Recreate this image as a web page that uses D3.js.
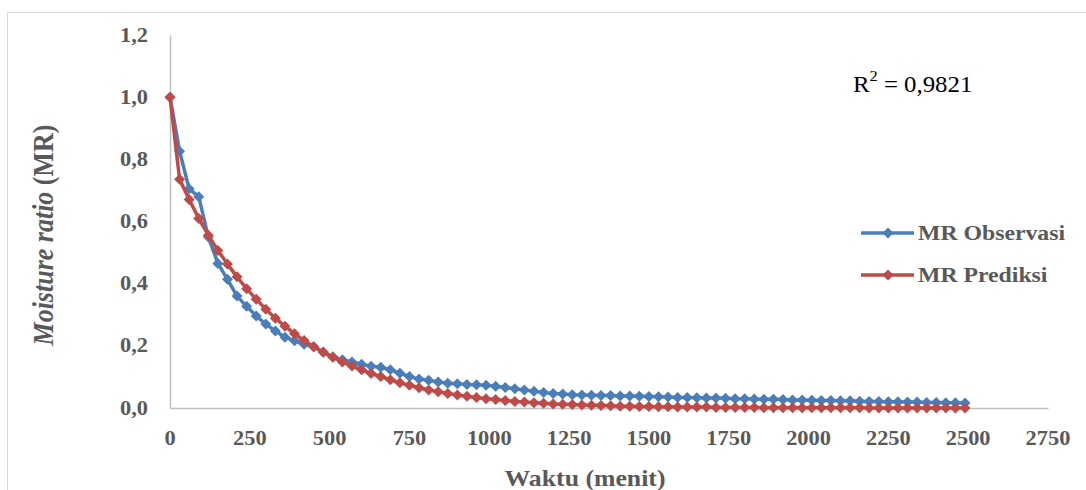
<!DOCTYPE html>
<html>
<head>
<meta charset="utf-8">
<script src="https://cdn.jsdelivr.net/npm/d3@7"></script>
<style>
  body { margin: 0; background: #fff; }
  svg { display: block; font-family: "Liberation Serif", "Times New Roman", serif; }
</style>
</head>
<body>
<div id="chart"></div>
<script>
// Time axis: one reading every 30 minutes, 0 .. 2490
const waktu = d3.range(0, 2491, 30);

// MR Observasi
const mrObservasi = [
  1.000, 0.826, 0.705, 0.680, 0.550, 0.465, 0.414, 0.360, 0.327, 0.296,
  0.270, 0.248, 0.228, 0.216, 0.205, 0.197, 0.180, 0.165, 0.155, 0.148,
  0.141, 0.134, 0.131, 0.123, 0.112, 0.101, 0.093, 0.089, 0.084, 0.080,
  0.078, 0.076, 0.075, 0.073, 0.070, 0.066, 0.062, 0.058, 0.054, 0.050,
  0.047, 0.045, 0.043, 0.042, 0.041, 0.040, 0.040, 0.039, 0.039, 0.038,
  0.037, 0.036, 0.035, 0.034, 0.034, 0.033, 0.032, 0.032, 0.031, 0.030,
  0.030, 0.029, 0.028, 0.028, 0.027, 0.026, 0.026, 0.025, 0.024, 0.024,
  0.023, 0.023, 0.022, 0.021, 0.021, 0.020, 0.020, 0.019, 0.019, 0.018,
  0.018, 0.017, 0.017, 0.016
];

// MR Prediksi
const mrPrediksi = [
  1.000, 0.736, 0.671, 0.610, 0.556, 0.507, 0.463, 0.422, 0.384, 0.350,
  0.318, 0.289, 0.263, 0.239, 0.217, 0.197, 0.179, 0.163, 0.148, 0.135,
  0.123, 0.111, 0.101, 0.091, 0.081, 0.073, 0.065, 0.058, 0.052, 0.047,
  0.042, 0.038, 0.034, 0.030, 0.027, 0.024, 0.021, 0.019, 0.017, 0.015,
  0.013, 0.012, 0.011, 0.010, 0.009, 0.008, 0.007, 0.006, 0.006, 0.005,
  0.005, 0.004, 0.004, 0.003, 0.003, 0.003, 0.003, 0.002, 0.002, 0.002,
  0.002, 0.002, 0.001, 0.001, 0.001, 0.001, 0.001, 0.001, 0.001, 0.001,
  0.001, 0.001, 0.001, 0.000, 0.000, 0.000, 0.000, 0.000, 0.000, 0.000,
  0.000, 0.000, 0.000, 0.000
];

const xTicks = [0, 250, 500, 750, 1000, 1250, 1500, 1750, 2000, 2250, 2500, 2750];
const yTicks = [0, 0.2, 0.4, 0.6, 0.8, 1.0, 1.2];

const series = [
  { name: 'MR Observasi', values: mrObservasi, color: '#4a7ebb' },
  { name: 'MR Prediksi', values: mrPrediksi, color: '#be4b48' }
];

const width = 1086;
const height = 490;
const textColor = '#595959';
const stretch = 1.12; // the source image is slightly wider than native

const svg = d3.select('#chart')
  .append('svg')
  .attr('width', width)
  .attr('height', height);

// outer chart frame
svg.append('rect')
  .attr('x', 7.5).attr('y', 12.5)
  .attr('width', 1100).attr('height', 500)
  .attr('fill', 'none')
  .attr('stroke', '#d9d9d9');

const x = d3.scaleLinear().domain([0, 2750]).range([170, 1048]);
const y = d3.scaleLinear().domain([0, 1.2]).range([408, 35]);

// helper for horizontally stretched text
function label(parent, px, py, str, opts = {}) {
  const g = parent.append('g')
    .attr('transform', `translate(${px},${py}) scale(${opts.sx || stretch},1)`);
  const t = g.append('text')
    .attr('text-anchor', opts.anchor || 'start')
    .attr('dominant-baseline', 'central')
    .attr('font-size', opts.size || 20)
    .attr('font-weight', opts.weight || 'bold')
    .attr('fill', opts.color || textColor)
    .text(str);
  return t;
}

// axes
const xAxis = svg.append('g')
  .attr('transform', `translate(0,${y(0)})`)
  .call(d3.axisBottom(x).tickValues(xTicks).tickSize(0).tickFormat(''));
xAxis.select('.domain').attr('stroke', '#bfbfbf').attr('stroke-width', 1.5);

const yAxis = svg.append('g')
  .attr('transform', `translate(${x(0)},0)`)
  .call(d3.axisLeft(y).tickValues(yTicks).tickSize(0).tickFormat(''));
yAxis.select('.domain').attr('stroke', '#bfbfbf').attr('stroke-width', 1.5);

const fmtY = d => d3.format('.1f')(d).replace('.', ',');
yTicks.forEach(d => label(svg, 148, y(d), fmtY(d), { anchor: 'end' }));
xTicks.forEach(d => label(svg, x(d), 438, String(d), { anchor: 'middle' }));

// axis titles
label(svg, 585, 478, 'Waktu (menit)', { anchor: 'middle', size: 23 });

const yTitle = svg.append('text')
  .attr('transform', `translate(42,235) rotate(-90) scale(1,${stretch})`)
  .attr('text-anchor', 'middle')
  .attr('dominant-baseline', 'central')
  .attr('font-size', 26)
  .attr('font-weight', 'bold')
  .attr('fill', textColor);
yTitle.append('tspan').attr('font-style', 'italic').text('Moisture ratio');
yTitle.append('tspan').text(' (MR)');

// diamond marker path
const diamond = r => `M0,${-r}L${r},0L0,${r}L${-r},0Z`;

const line = d3.line()
  .x((d, i) => x(waktu[i]))
  .y(d => y(d));

series.forEach(s => {
  svg.append('path')
    .datum(s.values)
    .attr('fill', 'none')
    .attr('stroke', s.color)
    .attr('stroke-width', 3.5)
    .attr('stroke-linejoin', 'round')
    .attr('d', line);

  svg.append('g')
    .selectAll('path')
    .data(s.values)
    .join('path')
    .attr('transform', (d, i) => `translate(${x(waktu[i])},${y(d)})`)
    .attr('d', diamond(5.5))
    .attr('fill', s.color);
});

// R squared annotation
const r2 = label(svg, 853, 84, 'R', { size: 23, weight: 'normal', color: '#000', sx: 1.08 });
r2.append('tspan').attr('baseline-shift', 'super').attr('font-size', 15).text('2');
r2.append('tspan').text(' = 0,9821');

// legend
const legend = svg.append('g');
series.forEach((s, i) => {
  const ly = 233 + i * 42;
  legend.append('line')
    .attr('x1', 861).attr('x2', 914)
    .attr('y1', ly).attr('y2', ly)
    .attr('stroke', s.color)
    .attr('stroke-width', 3.5);
  legend.append('path')
    .attr('transform', `translate(888,${ly})`)
    .attr('d', diamond(5.5))
    .attr('fill', s.color);
  label(legend, 918, ly, s.name, { size: 22, sx: 1.08 });
});
</script>
</body>
</html>
